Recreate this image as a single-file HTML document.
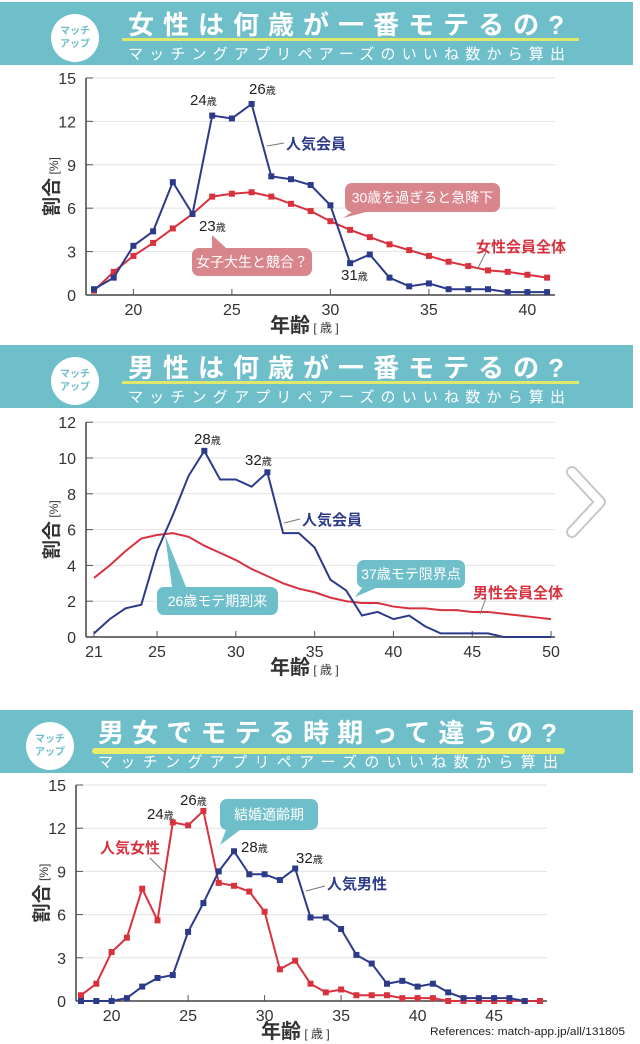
<!DOCTYPE html>
<html><head><meta charset="utf-8"><style>
body{margin:0;background:#fff;}
svg{display:block;font-family:"Liberation Sans","Noto Sans CJK JP",sans-serif;}
</style></head><body>
<svg id="s" width="640" height="1044" viewBox="0 0 640 1044" xmlns="http://www.w3.org/2000/svg"></svg>
<script>
// ---- Chart 1: women
const c1Ages = [18,19,20,21,22,23,24,25,26,27,28,29,30,31,32,33,34,35,36,37,38,39,40,41];
const c1Popular = [0.4,1.2,3.4,4.4,7.8,5.6,12.4,12.2,13.2,8.2,8.0,7.6,6.2,2.2,2.8,1.2,0.6,0.8,0.4,0.4,0.4,0.2,0.2,0.2];
const c1All = [0.3,1.6,2.7,3.6,4.6,5.6,6.8,7.0,7.1,6.8,6.3,5.8,5.1,4.5,4.0,3.5,3.1,2.7,2.3,2.0,1.7,1.6,1.4,1.2];
const c1YTicks = [0,3,6,9,12,15];
const c1XTicks = [20,25,30,35,40];
// ---- Chart 2: men
const c2Ages = [21,22,23,24,25,26,27,28,29,30,31,32,33,34,35,36,37,38,39,40,41,42,43,44,45,46,47,48,49,50];
const c2Popular = [0.2,1.0,1.6,1.8,4.8,6.8,9.0,10.4,8.8,8.8,8.4,9.2,5.8,5.8,5.0,3.2,2.6,1.2,1.4,1.0,1.2,0.6,0.2,0.2,0.2,0.2,0,0,0,0];
const c2All = [3.3,4.0,4.8,5.5,5.7,5.8,5.6,5.1,4.7,4.3,3.8,3.4,3.0,2.7,2.5,2.2,2.0,1.9,1.9,1.7,1.6,1.6,1.5,1.5,1.4,1.4,1.3,1.2,1.1,1.0];
const c2YTicks = [0,2,4,6,8,10,12];
const c2XTicks = [21,25,30,35,40,45,50];
// ---- Chart 3: comparison
const c3FemaleAges = [18,19,20,21,22,23,24,25,26,27,28,29,30,31,32,33,34,35,36,37,38,39,40,41,42,43,44,45,46,47,48];
const c3Female = [0.4,1.2,3.4,4.4,7.8,5.6,12.4,12.2,13.2,8.2,8.0,7.6,6.2,2.2,2.8,1.2,0.6,0.8,0.4,0.4,0.4,0.2,0.2,0.2,0,0,0,0,0,0,0];
const c3MaleAges = [18,19,20,21,22,23,24,25,26,27,28,29,30,31,32,33,34,35,36,37,38,39,40,41,42,43,44,45,46,47];
const c3Male = [0,0,0,0.2,1.0,1.6,1.8,4.8,6.8,9.0,10.4,8.8,8.8,8.4,9.2,5.8,5.8,5.0,3.2,2.6,1.2,1.4,1.0,1.2,0.6,0.2,0.2,0.2,0.2,0];
const c3YTicks = [0,3,6,9,12,15];
const c3XTicks = [20,25,30,35,40,45];

const NS="http://www.w3.org/2000/svg";
const svg=document.getElementById('s');
const BLUE="#2c3a8a", RED="#d8323e", TEAL="#6fbfca", PINK="#d8858c";
function el(tag,attrs,parent,text){const e=document.createElementNS(NS,tag);for(const k in attrs)e.setAttribute(k,attrs[k]);if(text!==undefined)e.textContent=text;(parent||svg).appendChild(e);return e;}

function header(y0,cx,title,sub,tx,underlineHL){
  const g=el('g',{});
  
  
  el('rect',{x:0,y:y0,width:633,height:63,fill:TEAL},g);
  el('circle',{cx:cx,cy:y0+36,r:24,fill:'#fff'},g);
  el('text',{x:cx,y:y0+32,'font-size':10,'font-weight':'bold',fill:TEAL,'text-anchor':'middle'},g,'マッチ');
  el('text',{x:cx,y:y0+45,'font-size':10,'font-weight':'bold',fill:TEAL,'text-anchor':'middle'},g,'アップ');
  if(underlineHL) el('rect',{x:tx-6,y:y0+38,width:473,height:6,rx:3,fill:'#e8ee6a'},g);
  else el('rect',{x:tx-6,y:y0+36,width:457,height:3,fill:'#dfe86a'},g);
  const t=el('text',{x:tx,y:y0+32,'font-size':26,'font-weight':'bold',fill:'#fff',textLength:underlineHL?459:436,lengthAdjust:'spacing'},g,title);
  
  
  const s=el('text',{x:tx,y:y0+57,'font-size':15,fill:'#fff',textLength:underlineHL?460:437,lengthAdjust:'spacing'},g,sub);
  
  
}

function makeChart(o){
  const g=el('g',{});
  
  
  const X=v=>o.x0+(v-o.xmin)*o.xs, Y=v=>o.y0-(v)*o.ys;
  o.yTicks.forEach(t=>{
    const y=Y(t);
    if(t>0){const gl=el('line',{x1:o.ax,x2:o.gx,y1:y,y2:y,stroke:'#e2e2e2','stroke-width':1},g);
      
      }
    el('line',{x1:o.ax,x2:o.ax+7,y1:y,y2:y,stroke:'#555','stroke-width':1},g);
    const tl=el('text',{x:o.ax-10,y:y+6,'font-size':16,fill:'#333','text-anchor':'end'},g,String(t));
    
    
  });
  o.xTicks.forEach(t=>{
    const x=X(t);
    el('line',{x1:x,x2:x,y1:o.y0,y2:o.y0-6,stroke:'#555','stroke-width':1},g);
    const tl=el('text',{x:x,y:o.y0+20,'font-size':16,fill:'#333','text-anchor':'middle'},g,String(t));
    
    
  });
  el('line',{x1:o.ax,x2:o.ax,y1:Y(o.yTicks[o.yTicks.length-1]),y2:o.y0,stroke:'#444','stroke-width':1.5},g);
  el('line',{x1:o.ax,x2:o.gx,y1:o.y0,y2:o.y0,stroke:'#444','stroke-width':1.5},g);
  const yt=el('text',{x:0,y:0,'font-size':19,'font-weight':'bold',fill:'#333','text-anchor':'middle',transform:`translate(${o.ax-28},${(o.y0+Y(o.yTicks[o.yTicks.length-1]))/2}) rotate(-90)`},g);
  
  
  el('tspan',{},yt,'割合');el('tspan',{'font-size':12,'font-weight':'normal'},yt,' [%]');
  const xt=el('text',{x:o.xtx,y:o.y0+37,'font-size':20,'font-weight':'bold',fill:'#333'},g);
  
  
  el('tspan',{},xt,'年齢');el('tspan',{'font-size':12,'font-weight':'normal'},xt,' [ 歳 ]');
  o.series.forEach(s=>{
    const pts=s.xs.map((a,i)=>X(a)+','+Y(s.ys[i])).join(' ');
    const pl=el('polyline',{points:pts,fill:'none',stroke:s.color,'stroke-width':2},g);
    
    
    s.xs.forEach((a,i)=>{
      if(s.markers || (s.markAt && s.markAt.includes(a))){
        const m=el('rect',{x:X(a)-3,y:Y(s.ys[i])-3,width:6,height:6,fill:s.color},g);
        
        
      }
    });
  });
  return g;
}
function txt(x,y,t,opt,name){const e=el('text',Object.assign({x:x,y:y},opt),svg,t);return e;}
function ageLbl(x,y,n){const e=el('text',{x:x,y:y,'font-size':15,fill:'#222'});el('tspan',{},e,n);el('tspan',{'font-size':10},e,'歳');}
function callout(x,y,w,h,px,py,bx,fill,text,name){
  const g=el('g',{});
  
  
  el('rect',{x:x,y:y,width:w,height:h,rx:7,fill:fill},g);
  const by = py<y ? y : y+h;
  el('polygon',{points:`${bx},${by} ${bx+14},${by} ${px},${py}`,fill:fill},g);
  el('text',{x:x+w/2,y:y+h/2+5,'font-size':14,fill:'#fff','text-anchor':'middle'},g,text);
}
function leader(x1,y1,x2,y2){const l=el('line',{x1,y1,x2,y2,stroke:'#777','stroke-width':1});}

// Panel 1
header(2,75,'女性は何歳が一番モテるの?','マッチングアプリペアーズのいいね数から算出',128,false);
makeChart({name:'female-chart',x0:94,xmin:18,xs:19.7,y0:295,ys:14.47,ax:86,gx:555,xtx:270,
  yTicks:c1YTicks,xTicks:c1XTicks,
  series:[{name:'female-all',xs:c1Ages,ys:c1All,color:RED,markers:true},
          {name:'female-popular',xs:c1Ages,ys:c1Popular,color:BLUE,markers:true}]});
ageLbl(190,105,'24');ageLbl(249,94,'26');ageLbl(199,231,'23');ageLbl(341,280,'31');
leader(267,146,284,143);
txt(286,149,'人気会員',{'font-size':15,'font-weight':'bold',fill:BLUE},'series-label-popular');
leader(478,268,486,252);
txt(476,252,'女性会員全体',{'font-size':15,'font-weight':'bold',fill:RED},'series-label-all');
callout(345,183,155,29,343,218,352,PINK,'30歳を過ぎると急降下','callout-drop');
callout(192,248,120,28,212,235,212,PINK,'女子大生と競合？','callout-students');

// Panel 2
header(345,75,'男性は何歳が一番モテるの?','マッチングアプリペアーズのいいね数から算出',128,false);
makeChart({name:'male-chart',x0:94,xmin:21,xs:15.76,y0:637,ys:17.9,ax:86,gx:555,xtx:270,
  yTicks:c2YTicks,xTicks:c2XTicks,
  series:[{name:'male-all',xs:c2Ages,ys:c2All,color:RED,markers:false},
          {name:'male-popular',xs:c2Ages,ys:c2Popular,color:BLUE,markers:false,markAt:[28,32]}]});
ageLbl(194,444,'28');ageLbl(245,465,'32');
leader(284,523,300,519);
txt(302,525,'人気会員',{'font-size':15,'font-weight':'bold',fill:BLUE},'series-label-popular');
leader(480,614,486,598);
txt(473,598,'男性会員全体',{'font-size':15,'font-weight':'bold',fill:RED},'series-label-all');
callout(357,560,108,28,355,597,362,TEAL,'37歳モテ限界点','callout-limit');
callout(157,587,121,28,165,535,172,TEAL,'26歳モテ期到来','callout-peak');
const chevShadow=el('polyline',{points:'572,472 600,502 572,532',fill:'none',stroke:'#c8c8c8','stroke-width':12,'stroke-linejoin':'round','stroke-linecap':'round'});


const chev=el('polyline',{points:'572,472 600,502 572,532',fill:'none',stroke:'#fff','stroke-width':8,'stroke-linejoin':'round','stroke-linecap':'round'});



// Panel 3
header(710,50,'男女でモテる時期って違うの?','マッチングアプリペアーズのいいね数から算出',98,true);
makeChart({name:'comparison-chart',x0:81,xmin:18,xs:15.3,y0:1001,ys:14.4,ax:76,gx:547,xtx:261,
  yTicks:c3YTicks,xTicks:c3XTicks,
  series:[{name:'popular-female',xs:c3FemaleAges,ys:c3Female,color:RED,markers:true},
          {name:'popular-male',xs:c3MaleAges,ys:c3Male,color:BLUE,markers:true}]});
ageLbl(147,819,'24');ageLbl(180,805,'26');ageLbl(241,852,'28');ageLbl(296,863,'32');
leader(150,858,165,873);
txt(100,853,'人気女性',{'font-size':15,'font-weight':'bold',fill:RED},'series-label-female');
leader(306,891,325,886);
txt(327,889,'人気男性',{'font-size':15,'font-weight':'bold',fill:BLUE},'series-label-male');
callout(220,799,98,31,220,845,226,TEAL,'結婚適齢期','callout-marriage');
txt(430,1035,'References: match-app.jp/all/131805',{'font-size':11,fill:'#222',textLength:195,lengthAdjust:'spacingAndGlyphs'},'references');
</script>
</body></html>
